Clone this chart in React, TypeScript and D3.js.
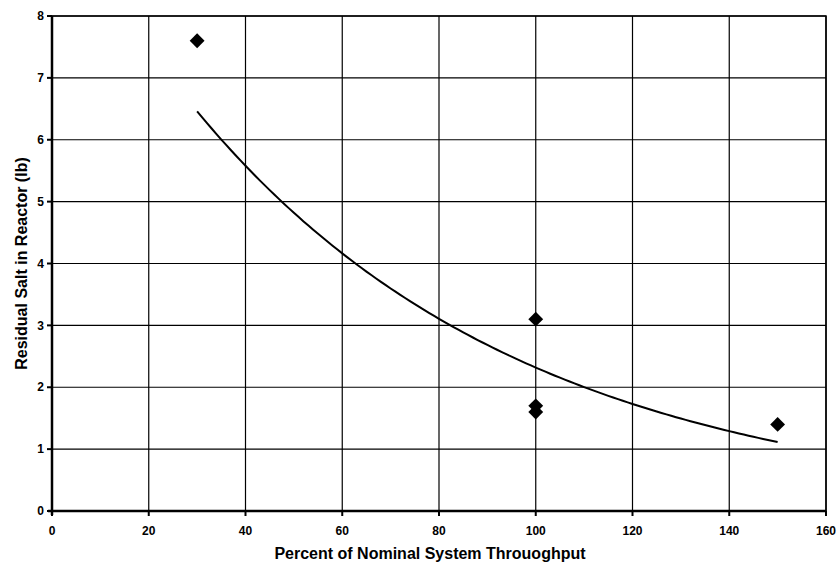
import React from "react";
import * as d3 from "d3";

const throughput = [30, 100, 100, 100, 150];
const residualSalt = [7.6, 3.1, 1.7, 1.6, 1.4];
const xTicks = [0, 20, 40, 60, 80, 100, 120, 140, 160];
const yTicks = [0, 1, 2, 3, 4, 5, 6, 7, 8];
const xTitle = "Percent of Nominal System Throuoghput";
const yTitle = "Residual Salt in Reactor (lb)";

const W = 838;
const H = 565;
const M = { left: 52, right: 12, top: 16, bottom: 54 };

export default function App() {
  const x = d3.scaleLinear().domain([0, 160]).range([M.left, W - M.right]);
  const y = d3.scaleLinear().domain([0, 8]).range([H - M.bottom, M.top]);

  // Exponential trendline (least squares on ln y), as in the spreadsheet
  const lnY = residualSalt.map((v) => Math.log(v));
  const mx = d3.mean(throughput)!;
  const my = d3.mean(lnY)!;
  let sxy = 0;
  let sxx = 0;
  throughput.forEach((xv, i) => {
    sxy += (xv - mx) * (lnY[i] - my);
    sxx += (xv - mx) * (xv - mx);
  });
  const b = sxy / sxx;
  const a = Math.exp(my - b * mx);
  const xmin = d3.min(throughput)!;
  const xmax = d3.max(throughput)!;
  const trendX = d3.range(xmin, xmax + 0.001, 1);
  const line = d3
    .line<number>()
    .x((d) => x(d))
    .y((d) => y(a * Math.exp(b * d)));

  const font = "Arial, 'Liberation Sans', sans-serif";
  const x0 = x(0);
  const x1 = x(160);
  const y0 = y(0);
  const y1 = y(8);
  const diamond = d3.symbol().type(d3.symbolDiamond2).size(140)();

  return (
    <svg
      width={W}
      height={H}
      style={{ position: "absolute", left: 0, top: 0, background: "#fff" }}
      fontFamily={font}
    >
      <rect x={0} y={0} width={W} height={H} fill="#fff" />
      {xTicks.map((t) => (
        <line key={"gx" + t} x1={x(t)} x2={x(t)} y1={y0} y2={y1} stroke="#000" strokeWidth={1.2} />
      ))}
      {yTicks.map((t) => (
        <line key={"gy" + t} x1={x0} x2={x1} y1={y(t)} y2={y(t)} stroke="#000" strokeWidth={1.2} />
      ))}
      <rect x={x0} y={y1} width={x1 - x0} height={y0 - y1} fill="none" stroke="#000" strokeWidth={1.5} />
      <line x1={x0} x2={x0} y1={y1} y2={y0 + 4} stroke="#000" strokeWidth={2.5} />
      <line x1={x0 - 4} x2={x1} y1={y0} y2={y0} stroke="#000" strokeWidth={2.5} />
      {yTicks.map((t) => (
        <g key={"ty" + t}>
          <line x1={x0 - 5} x2={x0} y1={y(t)} y2={y(t)} stroke="#000" strokeWidth={2} />
          <text x={x0 - 8} y={y(t)} dy="0.35em" textAnchor="end" fontSize={12} fontWeight="bold" fill="#000">
            {t}
          </text>
        </g>
      ))}
      {xTicks.map((t) => (
        <g key={"tx" + t}>
          <line x1={x(t)} x2={x(t)} y1={y0} y2={y0 + 5} stroke="#000" strokeWidth={2} />
          <text x={x(t)} y={y0 + 24} textAnchor="middle" fontSize={12} fontWeight="bold" fill="#000">
            {t}
          </text>
        </g>
      ))}
      <path d={line(trendX) || ""} fill="none" stroke="#000" strokeWidth={2} />
      {throughput.map((xv, i) => (
        <path key={"p" + i} d={diamond || ""} transform={`translate(${x(xv)},${y(residualSalt[i])})`} fill="#000" />
      ))}
      <text x={430} y={559} textAnchor="middle" fontSize={16} fontWeight="bold" fill="#000">
        {xTitle}
      </text>
      <text
        transform={`translate(27,${(y0 + y1) / 2}) rotate(-90)`}
        textAnchor="middle"
        fontSize={16}
        fontWeight="bold"
        fill="#000"
      >
        {yTitle}
      </text>
    </svg>
  );
}
